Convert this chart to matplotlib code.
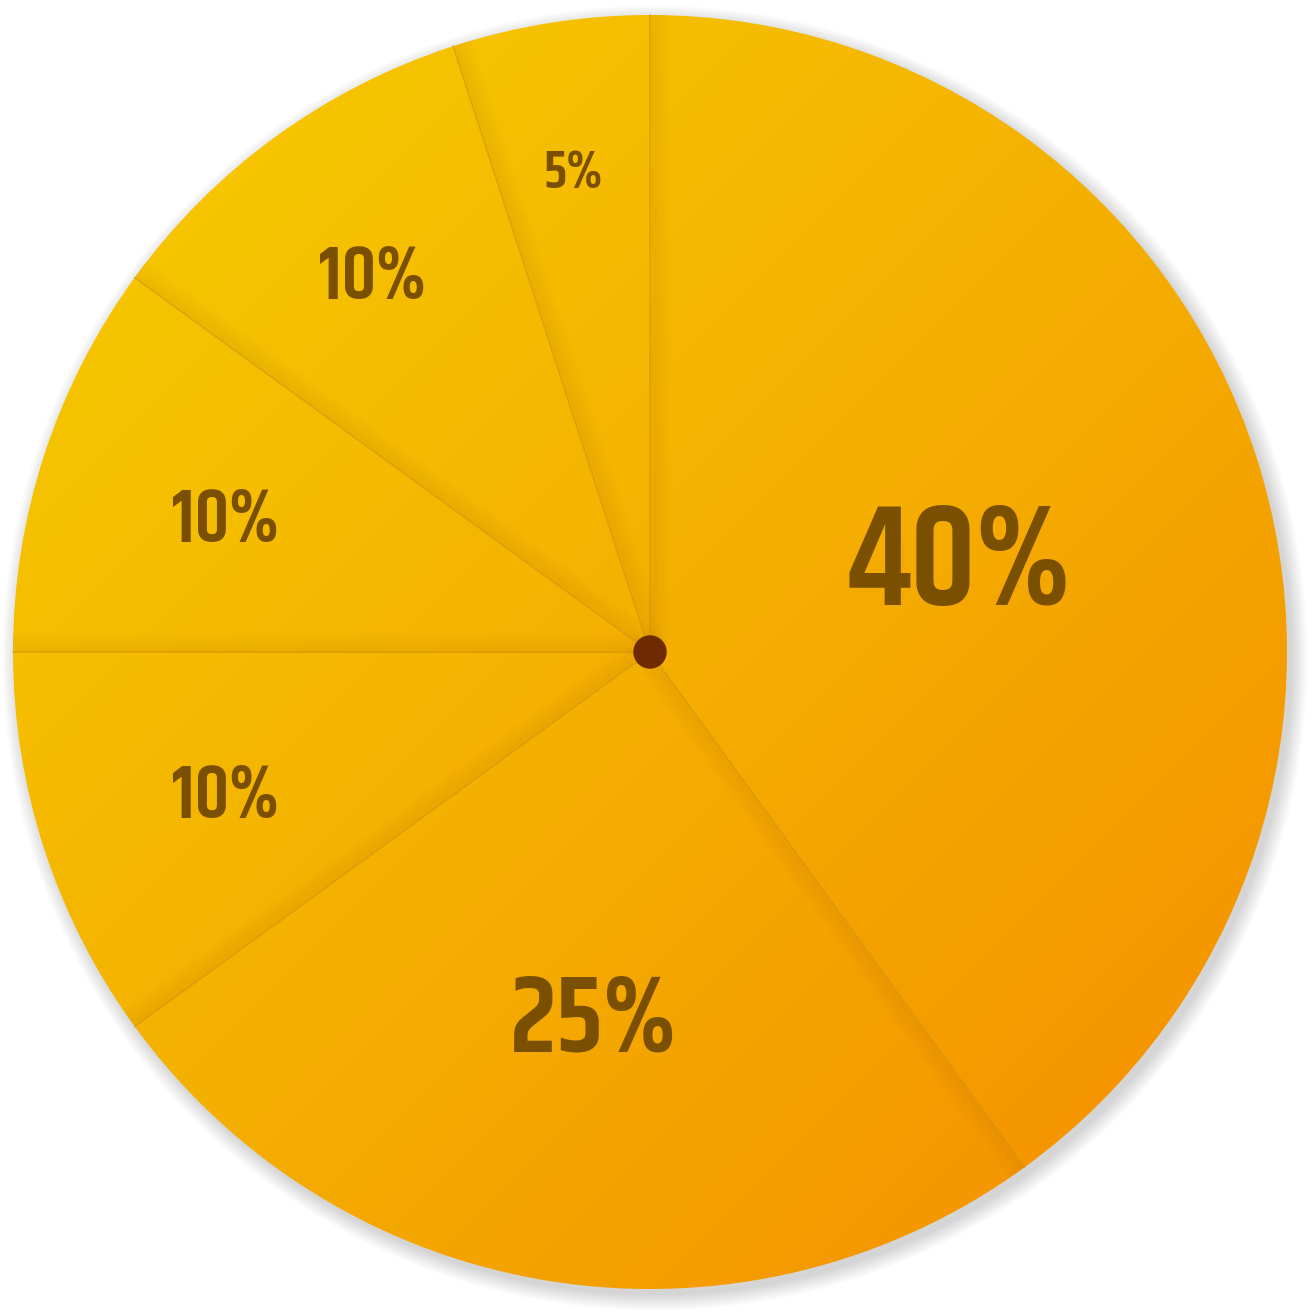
import numpy as np
import matplotlib.pyplot as plt
from matplotlib.patches import Circle

# slice data, clockwise from 12 o'clock
shares = [40, 25, 10, 10, 10, 5]
labels = ['40%', '25%', '10%', '10%', '10%', '5%']
label_sizes = [103, 79, 54, 54, 54, 39]
label_dist = [0.51, 0.57, 0.70, 0.70, 0.74, 0.77]

W, H = 1316, 1312
cx, cy, R = 650, H - 652, 637

fig = plt.figure(figsize=(W / 100, H / 100), dpi=100)
ax = fig.add_axes([0, 0, 1, 1])
ax.set_axis_off()

# soft drop shadow under the disc
for i in range(14):
    ax.add_patch(Circle((cx + 5, cy - 6), R + i * 1.2, color='black',
                        alpha=0.011, lw=0, zorder=0))

wedges, _ = ax.pie(shares, center=(cx, cy), radius=R, startangle=90,
                   counterclock=False,
                   wedgeprops=dict(facecolor='none', edgecolor='none'))

# diagonal gradient yellow -> orange
n = 400
u = np.linspace(0, 1, n)
uu, vv = np.meshgrid(u, u)
t = (uu + vv) / 2
c0 = np.array([247, 205, 0]) / 255
c1 = np.array([244, 176, 0]) / 255
c2 = np.array([246, 140, 0]) / 255
t3 = t[..., None]
rgb = np.where(t3 < 0.5, c0 + (c1 - c0) * (t3 / 0.5),
               c1 + (c2 - c1) * ((t3 - 0.5) / 0.5))

for w in wedges:
    im = ax.imshow(rgb, extent=(cx - R, cx + R, cy - R, cy + R),
                   origin='upper', zorder=1, interpolation='bilinear')
    im.set_clip_path(w)

disc = Circle((cx, cy), R, transform=ax.transData)

# edge shading along each slice boundary
for w in wedges:
    th = np.deg2rad(w.theta1)
    d = np.array([np.cos(th), np.sin(th)])
    nrm = np.array([np.sin(th), -np.cos(th)])
    for k in range(1, 20):
        p0 = np.array([cx, cy]) + nrm * k
        p1 = p0 + d * R * 1.05
        ln, = ax.plot([p0[0], p1[0]], [p0[1], p1[1]], color='#8a4500',
                      alpha=0.03 * (1 - k / 20), lw=2.2, zorder=2,
                      solid_capstyle='butt')
        ln.set_clip_path(disc)
    ax.plot([cx, cx + d[0] * R], [cy, cy + d[1] * R],
            color='#c98a00', alpha=0.5, lw=1.1, zorder=3)

for w, lab, fs, r in zip(wedges, labels, label_sizes, label_dist):
    mid = np.deg2rad((w.theta1 + w.theta2) / 2)
    ax.text(cx + r * R * np.cos(mid), cy + r * R * np.sin(mid), lab,
            ha='center', va='center_baseline', fontsize=fs,
            fontweight='semibold', family=['Khand', 'DejaVu Sans'],
            color='#7b4f00', zorder=5)

ax.add_patch(Circle((cx, cy), 16, color='#6e2a00', zorder=6))

ax.set_xlim(0, W)
ax.set_ylim(0, H)
ax.set_aspect('equal')

fig.savefig('out.png', dpi=100, facecolor='white')
